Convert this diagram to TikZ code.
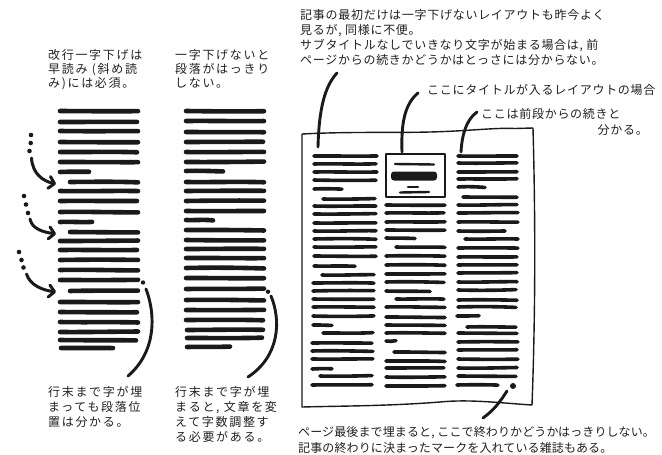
\documentclass[tikz,border=0pt]{standalone}
\usepackage{fontspec}
\newfontfamily\jpwide[LetterSpace=14]{Noto Sans CJK JP}
\newfontfamily\jpmid[LetterSpace=6]{Noto Sans CJK JP}
\newfontfamily\jpnarrow[LetterSpace=1]{Noto Sans CJK JP}
\usetikzlibrary{arrows.meta}
\definecolor{ink}{HTML}{1A1A1A}
\definecolor{txt}{HTML}{231F20}
\newcommand\wbar[4]{%
  \pgfmathsetmacro\wbxA{#3+(#4-#3)/3}%
  \pgfmathsetmacro\wbxB{#3+2*(#4-#3)/3}%
  \pgfmathsetmacro\wbyA{#2+0.6*rand}%
  \pgfmathsetmacro\wbyB{#2+0.6*rand}%
  \pgfmathsetmacro\wbyC{#2+0.5*rand}%
  \draw[#1] (#3,#2) .. controls (\wbxA,\wbyA) and (\wbxB,\wbyB) .. (#4,\wbyC);}
\begin{document}
\begin{tikzpicture}[x=1pt,y=-1pt,
  stackbar/.style={line width=4.6pt, line cap=round, draw=ink},
  pagebar/.style={line width=3.6pt, line cap=round, draw=ink},
  thinbar/.style={line width=2.4pt, line cap=round, draw=ink},
  callout/.style={line width=2.9pt, line cap=round, draw=ink},
  arrowline/.style={line width=3pt, line cap=round, draw=ink, -{Straight Barb[round,length=5.5pt,width=12pt]}},
  pageedge/.style={line width=1.4pt, draw=ink, line join=round},
  dotmark/.style={fill=ink, draw=none},
  notetext/.style={inner sep=0pt, align=left, anchor=north west, text=txt}]
\pgfmathsetseed{4242}
\useasboundingbox (0,0) rectangle (662,455);
\fill[white] (0,0) rectangle (662,455);

% ---------- texts ----------
\node[notetext, font=\jpwide\fontsize{12}{14}\selectfont] (tA) at (48,49.5)
  {改行一字下げは\\早読み (斜め読\\み)には必須。};
\node[notetext, font=\jpwide\fontsize{12}{14}\selectfont] (tB) at (175,49.5)
  {一字下げないと\\段落がはっきり\\しない。};
\node[notetext, font=\jpmid\fontsize{12}{15}\selectfont] (tC) at (300,9.5)
  {記事の最初だけは一字下げないレイアウトも昨今よく\\見るが, 同様に不便。\\サブタイトルなしでいきなり文字が始まる場合は, 前\\ページからの続きかどうかはとっさには分からない。};
\node[notetext, anchor=west, font=\jpmid\fontsize{12}{15}\selectfont] (tD) at (427,90)
  {ここにタイトルが入るレイアウトの場合};
\node[notetext, anchor=west, font=\jpmid\fontsize{12}{15}\selectfont] (tE) at (481,114)
  {ここは前段からの続きと};
\node[notetext, anchor=east, font=\jpmid\fontsize{12}{15}\selectfont] (tE2) at (648,130)
  {分かる。};
\node[notetext, font=\jpwide\fontsize{12}{15}\selectfont] (tF) at (48,386.5)
  {行末まで字が埋\\まっても段落位\\置は分かる。};
\node[notetext, font=\jpwide\fontsize{12}{15}\selectfont] (tG) at (175,386.5)
  {行末まで字が埋\\まると, 文章を変\\えて字数調整す\\る必要がある。};
\node[notetext, font=\jpnarrow\fontsize{12}{16}\selectfont] (tH) at (298,426.5)
  {ページ最後まで埋まると, ここで終わりかどうかはっきりしない。\\記事の終わりに決まったマークを入れている雑誌もある。};

% ---------- left stack (indented paragraphs) ----------
\foreach \y/\a/\b in {111/60/138, 122/60/137, 131/60/138, 142/60/138, 152/60/137, 162/60/138, 172/60/89, 182/70/138, 191/60/138, 201/60/137, 212/60/138, 222/60/92, 232/70/138, 241/60/138, 250/60/137, 260/60/138, 270/60/138, 280/60/138, 291/70/138, 302/60/138, 312/60/137, 322/60/138, 332/60/138, 340/60/136, 348/61/113}
  {\wbar{stackbar}{\y}{\a}{\b}}
\fill[dotmark] (143,282.5) circle (2.2);
\draw[callout] (146,289) .. controls (156,315) and (156,352) .. (128,376);

% arrows with dotted tails
\foreach \p in {(31,135),(30.7,143),(29.5,151),(24,196),(26,204.5),(28,213),(19,252),(21.5,260),(23.5,267.5)}
  {\fill[dotmark] \p circle (2.3);}
\draw[arrowline] (31.5,158) .. controls (32.5,174) and (43,181) .. (56,184);
\draw[arrowline] (30,219) .. controls (32,229) and (43,232) .. (56,234);
\draw[arrowline] (26.5,274) .. controls (30,285) and (42,290) .. (56,292);

% ---------- second stack (no indent) ----------
\foreach \y/\a/\b in {111/186/264, 121/186/264, 132/186/264, 142/186/263, 152/186/264, 162/186/264, 171/186/223, 182/186/264, 191/186/264, 201/186/264, 211/186/264, 220/186/213, 230/186/264, 240/186/264, 249/186/264, 258/186/264, 268/186/264, 278/186/264, 289/186/264, 300/186/264, 310/186/264, 320/186/263, 330/187/263, 338/187/262, 347/187/230}
  {\wbar{stackbar}{\y}{\a}{\b}}
\fill[dotmark] (268,291.7) circle (2.2);
\draw[callout] (271,296) .. controls (281,320) and (280,356) .. (248,377);

% ---------- magazine page ----------
\draw[pageedge] (302,134) .. controls (350,131.5) and (390,133) .. (430,132)
  .. controls (470,131) and (495,127.5) .. (515,128.5) -- (533,128)
  .. controls (535,200) and (536,300) .. (532,405)
  .. controls (500,403) and (470,399) .. (440,402)
  .. controls (390,406) and (340,406) .. (302,407) -- cycle;

\foreach \y/\a/\b in {156/314/377, 164/314/376, 172/314/377, 180/314/376, 189/314/342, 199/323/375, 206/314/376, 214/314/376, 223/314/376, 231/314/376, 239/314/376, 247/314/376, 256/314/376, 266/314/355, 275/322/374, 283/313/374, 291/313/374, 299/313/374, 307/313/374, 316/313/374, 325/313/332, 333/323/373, 343/312/372, 351/312/373, 359/312/373, 369/312/332, 376/320/372, 385/312/372}
  {\wbar{pagebar}{\y}{\a}{\b}}
\foreach \y/\a/\b in {205/386/445, 213/386/444, 222/386/445, 230/386/445, 238/386/415, 247/396/445, 256/386/445, 265/386/445, 274/386/445, 282/386/444, 291/386/430, 299/396/444, 307/386/445, 317/386/445, 325/386/445, 333/386/445, 341/386/396, 352/394/445, 361/386/445, 368/386/444, 377/386/445, 386/386/445}
  {\wbar{pagebar}{\y}{\a}{\b}}
\foreach \y/\a/\b in {156/458/517, 163/458/517, 172/458/517, 179/458/517, 187/458/485, 197/463/517, 205/458/517, 213/458/518, 222/458/518, 231/458/505, 239/465/518, 248/458/518, 257/458/517, 265/458/517, 273/458/517, 282/458/517, 290/458/516, 300/458/517, 307/458/516, 316/457/479, 327/467/516, 333/458/517, 342/458/518, 350/458/517, 359/458/518, 368/458/517, 376/458/516, 385/457/498}
  {\wbar{pagebar}{\y}{\a}{\b}}
\fill[dotmark] (513,386) circle (3);

% title box
\draw[pageedge] (386,154) rectangle (445,197);
\draw[thinbar] (395,164) -- (434,164.5);
\fill[ink, rounded corners=3pt] (391,171.5) rectangle (437,180.5);
\draw[thinbar] (408,187) -- (418,187);
\draw[thinbar] (400,192.5) -- (429,192);

% page callouts
\draw[callout] (337,73) .. controls (325,86) and (319,108) .. (318,147);
\draw[callout] (418,93) .. controls (405,104) and (401,122) .. (402,152);
\draw[callout] (477,112) .. controls (466,120) and (462,135) .. (461,152);
\draw[callout] (507,391) .. controls (500,402) and (494,410) .. (483,418);
\end{tikzpicture}
\end{document}
